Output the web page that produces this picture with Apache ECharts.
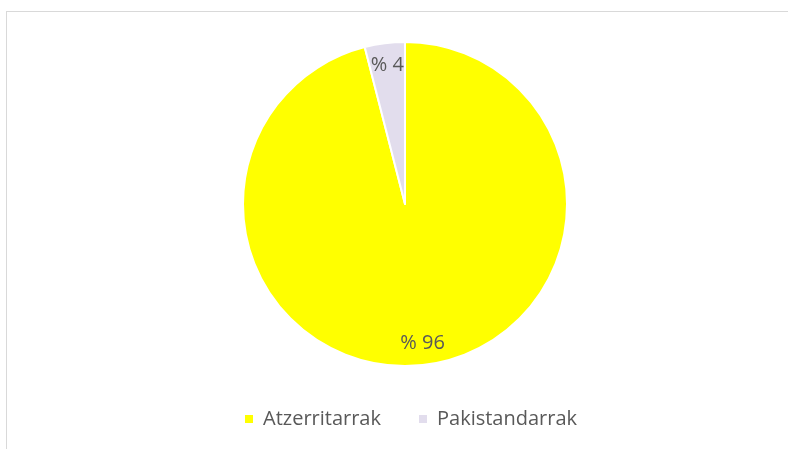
<!DOCTYPE html>
<html>
<head>
<meta charset="utf-8">
<script src="https://cdn.jsdelivr.net/npm/echarts@6/dist/echarts.min.js"></script>
<style>
	html, body { margin: 0; padding: 0; background: #fff; }
	#frame { position: absolute; left: 6px; top: 11px; width: 782px; height: 438px;
		border-left: 1px solid #d9d9d9; border-top: 1px solid #d9d9d9; box-sizing: border-box; }
	#chart { position: absolute; left: 0; top: 0; width: 788px; height: 449px; }
</style>
</head>
<body>
<div id="frame"></div>
<div id="chart"></div>
<script>
/* datuak */
var categories = ['Atzerritarrak', 'Pakistandarrak'];
var values = [96, 4];
var colors = ['#ffff00', '#e2dded'];

var pieData = [];
for (var i = 0; i < categories.length; i++) {
	pieData.push({ value: values[i], name: categories[i], itemStyle: { color: colors[i] } });
}

var textColor = '#595959';
var fontFam = '"Open Sans", "Liberation Sans", sans-serif';

var option = {
	animation: false,
	legend: {
		bottom: 15,
		left: 238,
		icon: 'rect',
		itemWidth: 10,
		itemHeight: 10,
		itemGap: 36,
		data: categories,
		textStyle: { color: textColor, fontSize: 20, fontFamily: fontFam, padding: [0, 0, 0, 4] }
	},
	series: [
		{
			name: 'pie',
			type: 'pie',
			radius: [0, 162],
			center: [405, 204],
			startAngle: 90,
			clockwise: true,
			label: { show: false },
			labelLine: { show: false },
			itemStyle: { borderColor: '#fff', borderWidth: 2 },
			data: pieData
		},
		{
			// etiketak erradioaren %85ean jartzeko
			name: 'labels',
			type: 'pie',
			radius: [112, 162],
			center: [405, 204],
			startAngle: 90,
			clockwise: true,
			silent: true,
			legendHoverLink: false,
			itemStyle: { color: 'rgba(0,0,0,0)', borderWidth: 0 },
			label: {
				show: true,
				position: 'inside',
				formatter: function (p) { return '% ' + p.value; },
				color: textColor,
				fontSize: 20,
				fontFamily: fontFam
			},
			labelLine: { show: false },
			data: values.map(function (v, i) { return { value: v, name: categories[i] + ' ' }; })
		}
	]
};

var chart = echarts.init(document.getElementById('chart'));
chart.setOption(option);
</script>
</body>
</html>
